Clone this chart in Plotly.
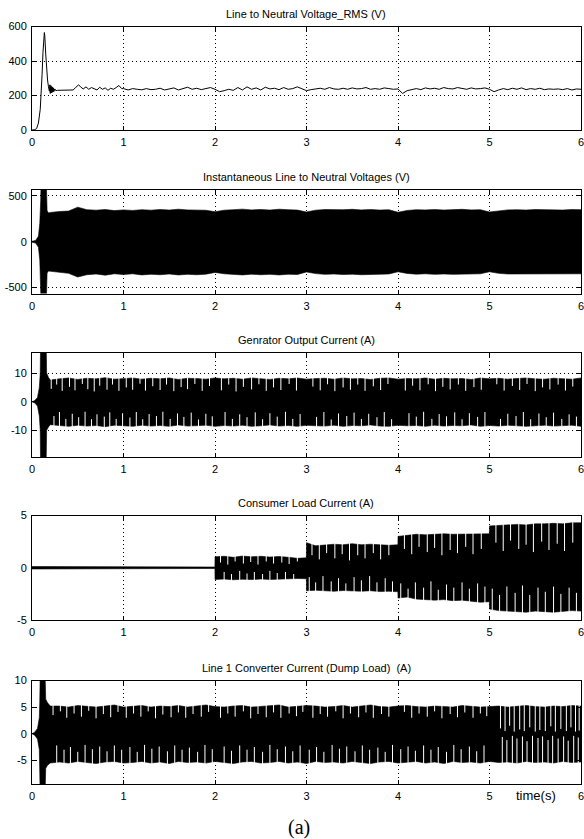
import plotly.graph_objects as go

# ---------------- data ----------------
x_ticks = [0, 1, 2, 3, 4, 5, 6]
titles = ["Line to Neutral Voltage_RMS (V)",
          "Instantaneous Line to Neutral Voltages (V)",
          "Genrator Output Current (A)",
          "Consumer Load Current (A)",
          "Line 1 Converter Current (Dump Load)  (A)"]

# 1) RMS voltage
t_rms = [0, 0.03, 0.05, 0.07, 0.09, 0.10, 0.11, 0.12, 0.13, 0.135, 0.14, 0.15, 0.16, 0.17, 0.18, 0.19,
         0.195, 0.20, 0.205, 0.21, 0.215, 0.22, 0.225, 0.23, 0.235, 0.24, 0.25, 0.26, 0.28, 0.30, 0.35,
         0.40, 0.45, 0.48, 0.51, 0.53, 0.56, 0.59, 0.62, 0.65, 0.68, 0.71, 0.74, 0.77, 0.80, 0.83, 0.86,
         0.89, 0.92, 0.95, 0.98,
         1.00, 1.05, 1.10, 1.15, 1.20, 1.25, 1.30, 1.35, 1.40, 1.45, 1.50, 1.55, 1.60, 1.65, 1.70, 1.75,
         1.80, 1.85, 1.90, 1.95, 2.00, 2.05, 2.10, 2.15, 2.20, 2.25, 2.30, 2.35, 2.40, 2.45, 2.50, 2.55,
         2.60, 2.65, 2.70, 2.75, 2.80, 2.85, 2.90, 2.95, 3.00, 3.05, 3.10, 3.15, 3.20, 3.25, 3.30, 3.35,
         3.40, 3.45, 3.50, 3.55, 3.60, 3.65, 3.70, 3.75, 3.80, 3.85, 3.90, 3.95, 4.00, 4.05, 4.10, 4.15,
         4.20, 4.25, 4.30, 4.35, 4.40, 4.45, 4.50, 4.55, 4.60, 4.65, 4.70, 4.75, 4.80, 4.85, 4.90, 4.95,
         5.00, 5.05, 5.10, 5.15, 5.20, 5.25, 5.30, 5.35, 5.40, 5.45, 5.50, 5.55, 5.60, 5.65, 5.70, 5.75,
         5.80, 5.85, 5.90, 5.95, 6.00]
v_rms = [0, 2, 8, 40, 120, 200, 320, 450, 520, 565, 545, 440, 350, 290, 250, 225,
         262, 212, 258, 215, 252, 218, 248, 220, 244, 224, 238, 228, 230, 230, 230,
         231, 232, 248, 262, 250, 238, 250, 236, 246, 240, 232, 248, 236, 244, 230, 242,
         236, 246, 258, 240,
         240, 232, 240, 236, 233, 240, 234, 236, 242, 232, 238, 244, 232, 240, 248, 236,
         242, 234, 240, 246, 236, 222, 228, 236, 230, 246, 232, 250, 236, 244, 232, 248,
         238, 242, 234, 246, 236, 240, 250, 238, 228, 234, 238, 242, 236, 246, 238, 236,
         242, 236, 244, 238, 240, 246, 236, 240, 236, 244, 240, 236, 238, 212, 228, 236,
         240, 234, 244, 238, 242, 236, 246, 240, 238, 246, 240, 236, 244, 238, 240, 244,
         236, 222, 232, 240, 234, 242, 236, 244, 234, 240, 236, 242, 234, 238, 236, 238,
         234, 240, 232, 238, 236]

# 2) Instantaneous voltage envelope
t_v = [0, 0.04, 0.07, 0.085, 0.095, 0.10, 0.155, 0.165, 0.18, 0.2,
       0.3, 0.4, 0.5, 0.6, 0.7, 0.8, 0.9, 1.0, 1.1, 1.2, 1.3, 1.4, 1.5, 1.6, 1.7, 1.8, 1.9,
       2.0, 2.1, 2.2, 2.3, 2.4, 2.5, 2.6, 2.7, 2.8, 2.9, 3.0, 3.1, 3.2, 3.3, 3.4, 3.5, 3.6, 3.7,
       3.8, 3.9, 4.0, 4.1, 4.2, 4.3, 4.4, 4.5, 4.6, 4.7, 4.8, 4.9, 5.0, 5.1, 5.2, 5.3, 5.4, 5.5,
       5.6, 5.7, 5.8, 5.9, 6.0]
v_up = [5, 15, 60, 200, 450, 700, 700, 340, 315, 320,
        330, 335, 378, 350, 345, 352, 340, 348, 342, 350, 345, 352, 346, 355, 348, 350, 344,
        328, 345, 350, 356, 348, 352, 346, 355, 350, 346, 325, 345, 352, 348, 350, 354, 348, 352,
        346, 350, 322, 342, 350, 348, 352, 346, 350, 354, 348, 350, 325, 340, 348, 350, 346, 352,
        348, 350, 346, 352, 350]
v_lo = [-5, -15, -60, -200, -450, -700, -700, -340, -320, -325,
        -335, -345, -385, -360, -352, -365, -350, -358, -350, -362, -355, -360, -352, -362, -356, -360, -354,
        -335, -350, -358, -362, -354, -360, -356, -362, -355, -358, -330, -348, -356, -352, -358, -354, -360, -352,
        -356, -352, -328, -346, -354, -350, -356, -352, -356, -350, -354, -350, -328, -345, -352, -348, -354, -350,
        -354, -348, -352, -350, -350]

# 3) Generator current envelope
t_g = [0, 0.03, 0.06, 0.08, 0.09, 0.095, 0.153, 0.16, 0.18, 0.2,
       0.3, 0.4, 0.5, 0.6, 0.7, 0.8, 0.9, 1.0, 1.1, 1.2, 1.3, 1.4, 1.5, 1.6, 1.7, 1.8, 1.9,
       2.0, 2.1, 2.2, 2.3, 2.4, 2.5, 2.6, 2.7, 2.8, 2.9, 3.0, 3.1, 3.2, 3.3, 3.4, 3.5, 3.6, 3.7,
       3.8, 3.9, 4.0, 4.1, 4.2, 4.3, 4.4, 4.5, 4.6, 4.7, 4.8, 4.9, 5.0, 5.1, 5.2, 5.3, 5.4, 5.5,
       5.6, 5.7, 5.8, 5.9, 6.0]
g_up = [0, 0.4, 1.5, 5, 10, 25, 25, 10, 8.5, 7.6,
        8.0, 8.3, 7.8, 8.2, 8.0, 8.4, 7.9, 8.1, 8.3, 7.9, 8.2, 8.0, 8.3, 7.8, 8.2, 8.1, 7.9,
        8.3, 8.0, 8.2, 7.9, 8.3, 8.1, 7.8, 8.2, 8.0, 8.3, 7.9, 8.1, 8.2, 7.9, 8.3, 8.0, 8.1, 7.8,
        8.2, 8.3, 7.9, 8.1, 8.0, 8.3, 7.9, 8.2, 8.0, 8.1, 7.8, 8.3, 8.0, 8.2, 7.9, 8.1, 8.3, 8.0,
        7.9, 8.2, 8.1, 7.9, 8.3]
g_lo = [0, -0.4, -1.5, -5, -10, -25, -25, -10, -8.8, -8.0,
        -8.3, -8.6, -8.2, -8.5, -8.3, -8.7, -8.2, -8.4, -8.6, -8.2, -8.5, -8.3, -8.6, -8.1, -8.5, -8.4, -8.2,
        -8.6, -8.3, -8.5, -8.2, -8.6, -8.4, -8.1, -8.5, -8.3, -8.6, -8.2, -8.4, -8.5, -8.2, -8.6, -8.3, -8.4, -8.1,
        -8.5, -8.6, -8.2, -8.4, -8.3, -8.6, -8.2, -8.5, -8.3, -8.4, -8.1, -8.6, -8.3, -8.5, -8.2, -8.4, -8.6, -8.3,
        -8.2, -8.5, -8.4, -8.2, -8.6]
g_gap_outer = 9.0
g_gaps_top = [(0.21, 4.5), (0.27, 6.0), (0.33, 3.8), (0.41, 5.2), (0.47, 4.0), (0.55, 6.2), (0.61, 4.4),
              (0.68, 3.6), (0.74, 5.6), (0.82, 4.2), (0.88, 6.0), (0.95, 3.8), (1.03, 5.0), (1.10, 4.2),
              (1.18, 6.3), (1.24, 3.9), (1.32, 5.4), (1.40, 4.1), (1.47, 6.0), (1.55, 3.7), (1.63, 5.1),
              (1.70, 4.4), (1.78, 6.2), (1.86, 3.8), (1.94, 5.5), (2.07, 4.0), (2.15, 6.0), (2.23, 3.6),
              (2.31, 5.2), (2.40, 4.3), (2.48, 6.1), (2.56, 3.8), (2.64, 5.0), (2.72, 4.1), (2.81, 6.2),
              (2.89, 3.9), (3.07, 5.3), (3.15, 4.0), (3.23, 6.1), (3.31, 3.7), (3.40, 5.0), (3.48, 4.2),
              (3.56, 6.0), (3.64, 3.8), (3.73, 5.4), (3.81, 4.1), (3.89, 6.2), (4.08, 3.9), (4.16, 5.6),
              (4.24, 4.0), (4.33, 6.1), (4.41, 3.7), (4.49, 5.2), (4.57, 4.3), (4.66, 6.0), (4.74, 3.8),
              (4.83, 5.1), (4.91, 4.2), (5.08, 6.1), (5.16, 3.9), (5.25, 5.5), (5.33, 4.1), (5.41, 6.2),
              (5.50, 3.7), (5.58, 5.0), (5.66, 4.3), (5.75, 6.0), (5.83, 3.9), (5.91, 5.3)]
g_gaps_bot = [(0.24, -5.0), (0.30, -3.6), (0.37, -6.0), (0.44, -4.2), (0.51, -5.4), (0.58, -3.5), (0.65, -6.1),
              (0.71, -4.4), (0.79, -5.2), (0.85, -3.7), (0.92, -6.0), (0.99, -4.0), (1.07, -5.5), (1.14, -3.6),
              (1.21, -6.1), (1.28, -4.3), (1.36, -5.0), (1.43, -3.5), (1.51, -6.0), (1.59, -4.1), (1.66, -5.3),
              (1.74, -3.8), (1.82, -6.2), (1.90, -4.2), (1.97, -5.1), (2.11, -3.6), (2.19, -6.0), (2.27, -4.4),
              (2.35, -5.4), (2.44, -3.7), (2.52, -6.1), (2.60, -4.0), (2.68, -5.2), (2.77, -3.5), (2.85, -6.0),
              (2.93, -4.3), (3.11, -5.3), (3.19, -3.6), (3.27, -6.2), (3.35, -4.1), (3.44, -5.0), (3.52, -3.8),
              (3.60, -6.0), (3.68, -4.2), (3.77, -5.4), (3.85, -3.6), (3.93, -6.1), (4.12, -4.0), (4.20, -5.2),
              (4.28, -3.5), (4.37, -6.0), (4.45, -4.3), (4.53, -5.1), (4.62, -3.7), (4.70, -6.1), (4.78, -4.0),
              (4.87, -5.3), (4.95, -3.6), (5.12, -6.0), (5.20, -4.2), (5.29, -5.0), (5.37, -3.6), (5.45, -6.1),
              (5.54, -4.1), (5.62, -5.4), (5.70, -3.8), (5.79, -6.0), (5.87, -4.4), (5.95, -5.2)]

# 4) Consumer load current envelope
t_l = [0, 0.15, 0.16, 0.5, 1.0, 1.5, 1.999,
       2.0, 2.1, 2.2, 2.3, 2.4, 2.5, 2.6, 2.7, 2.8, 2.9, 2.999,
       3.0, 3.1, 3.2, 3.3, 3.4, 3.5, 3.6, 3.7, 3.8, 3.9, 3.999,
       4.0, 4.1, 4.2, 4.3, 4.4, 4.5, 4.6, 4.7, 4.8, 4.9, 4.999,
       5.0, 5.1, 5.2, 5.3, 5.4, 5.5, 5.6, 5.7, 5.8, 5.9, 6.0]
l_up = [0.12, 0.12, 0.06, 0.07, 0.08, 0.07, 0.07,
        1.05, 1.10, 1.00, 1.12, 1.05, 1.10, 1.02, 1.08, 1.00, 0.90, 0.95,
        2.40, 2.10, 2.20, 2.25, 2.20, 2.30, 2.20, 2.25, 2.20, 2.15, 2.20,
        3.00, 3.10, 3.20, 3.15, 3.20, 3.25, 3.20, 3.22, 3.25, 3.20, 3.25,
        4.00, 4.05, 4.10, 4.15, 4.10, 4.20, 4.20, 4.25, 4.20, 4.30, 4.30]
l_lo = [-0.12, -0.12, -0.06, -0.07, -0.06, -0.07, -0.07,
        -1.12, -1.08, -1.15, -1.10, -1.13, -1.08, -1.12, -1.10, -1.06, -1.03, -1.05,
        -2.20, -2.15, -2.20, -2.25, -2.18, -2.20, -2.25, -2.20, -2.28, -2.25, -2.30,
        -2.90, -2.80, -3.00, -3.05, -3.10, -3.05, -3.15, -3.10, -3.20, -3.30, -3.25,
        -3.95, -4.10, -4.15, -4.20, -4.25, -4.15, -4.20, -4.25, -4.20, -4.10, -4.15]
l_gap_outer = 4.6
l_gaps_top = [(2.06, 0.5), (2.14, 0.3), (2.22, 0.6), (2.31, 0.4), (2.39, 0.55), (2.47, 0.3), (2.56, 0.6),
              (2.64, 0.4), (2.73, 0.5), (2.81, 0.35), (2.90, 0.6), (3.06, 1.2), (3.14, 0.8), (3.22, 1.4),
              (3.31, 0.9), (3.39, 1.3), (3.47, 0.7), (3.56, 1.2), (3.64, 0.9), (3.73, 1.4), (3.81, 0.8),
              (3.90, 1.2), (4.07, 1.8), (4.15, 1.3), (4.23, 2.0), (4.32, 1.5), (4.40, 1.9), (4.48, 1.2),
              (4.57, 1.7), (4.65, 1.4), (4.74, 2.0), (4.82, 1.3), (4.91, 1.8), (5.07, 2.4), (5.15, 1.6),
              (5.23, 2.6), (5.32, 1.8), (5.40, 2.2), (5.48, 1.5), (5.57, 2.5), (5.65, 1.7), (5.74, 2.3),
              (5.82, 1.6), (5.91, 2.4)]
l_gaps_bot = [(2.10, -0.4), (2.18, -0.6), (2.27, -0.3), (2.35, -0.55), (2.43, -0.4), (2.52, -0.6), (2.60, -0.3),
              (2.68, -0.5), (2.77, -0.4), (2.86, -0.6), (3.03, -0.9), (3.10, -1.4), (3.18, -0.8), (3.27, -1.3),
              (3.35, -1.0), (3.43, -1.5), (3.52, -0.9), (3.60, -1.2), (3.69, -0.8), (3.77, -1.4), (3.86, -1.0),
              (3.94, -1.3), (4.03, -1.5), (4.11, -2.0), (4.19, -1.4), (4.28, -1.9), (4.36, -1.3), (4.44, -2.1),
              (4.53, -1.6), (4.61, -1.9), (4.70, -1.4), (4.78, -2.0), (4.87, -1.5), (4.95, -1.8), (5.03, -2.0),
              (5.11, -2.6), (5.19, -1.8), (5.28, -2.4), (5.36, -1.7), (5.44, -2.6), (5.53, -1.9), (5.61, -2.3),
              (5.70, -1.8), (5.78, -2.5), (5.87, -1.9), (5.95, -2.4)]

# 5) Converter (dump load) current envelope
t_c = [0, 0.03, 0.06, 0.08, 0.085, 0.09, 0.142, 0.15, 0.17, 0.2,
       0.3, 0.4, 0.5, 0.6, 0.7, 0.8, 0.9, 1.0, 1.1, 1.2, 1.3, 1.4, 1.5, 1.6, 1.7, 1.8, 1.9,
       2.0, 2.1, 2.2, 2.3, 2.4, 2.5, 2.6, 2.7, 2.8, 2.9, 3.0, 3.1, 3.2, 3.3, 3.4, 3.5, 3.6, 3.7,
       3.8, 3.9, 4.0, 4.1, 4.2, 4.3, 4.4, 4.5, 4.6, 4.7, 4.8, 4.9, 5.0, 5.1, 5.2, 5.3, 5.4, 5.5,
       5.6, 5.7, 5.8, 5.9, 6.0]
c_up = [0, 0.3, 1.0, 3.0, 6.0, 12, 12, 6.5, 5.8, 5.2,
        5.2, 5.0, 5.3, 5.1, 5.0, 5.2, 5.4, 5.0, 5.1, 5.3, 5.0, 5.2, 5.1, 5.3, 5.0, 5.2, 5.4,
        5.1, 5.0, 5.2, 5.3, 5.0, 5.1, 5.2, 5.4, 5.0, 5.1, 5.3, 5.2, 5.0, 5.1, 5.3, 5.0, 5.2,
        5.4, 5.1, 5.0, 5.2, 5.3, 5.1, 5.0, 5.2, 5.1, 5.0, 5.3, 5.2, 5.0, 5.1, 5.2, 5.0, 5.2,
        5.3, 5.1, 5.0, 5.2, 5.1, 5.3, 5.2]
c_lo = [0, -0.3, -1.0, -3.0, -6.0, -12, -12, -6.5, -5.9, -5.5,
        -5.3, -5.5, -5.2, -5.4, -5.6, -5.3, -5.2, -5.5, -5.4, -5.2, -5.5, -5.3, -5.6, -5.2, -5.4, -5.3, -5.5,
        -5.2, -5.4, -5.6, -5.3, -5.2, -5.5, -5.4, -5.2, -5.5, -5.3, -5.6, -5.2, -5.4, -5.3, -5.5, -5.2, -5.4,
        -5.6, -5.3, -5.2, -5.5, -5.4, -5.2, -5.5, -5.3, -5.6, -5.2, -5.4, -5.3, -5.5, -5.2, -5.4, -5.3, -5.5,
        -5.2, -5.4, -5.3, -5.5, -5.2, -5.4, -5.3]
c_gap_outer = 6.2
c_gaps_top = [(0.23, 3.5), (0.31, 4.2), (0.38, 3.0), (0.46, 3.8), (0.54, 3.2), (0.62, 4.3), (0.70, 2.9),
              (0.78, 3.7), (0.86, 3.1), (0.94, 4.1), (1.03, 3.0), (1.11, 3.8), (1.19, 3.2), (1.27, 4.2),
              (1.35, 2.9), (1.43, 3.6), (1.52, 3.1), (1.60, 4.0), (1.68, 3.0), (1.76, 3.7), (1.85, 3.2),
              (1.93, 4.1), (2.06, 3.0), (2.14, 3.8), (2.22, 3.2), (2.31, 4.2), (2.39, 2.9), (2.47, 3.7),
              (2.56, 3.1), (2.64, 4.0), (2.72, 3.0), (2.81, 3.8), (2.89, 3.3), (2.96, 4.1), (3.07, 3.0),
              (3.15, 3.7), (3.23, 3.2), (3.32, 4.2), (3.40, 2.9), (3.48, 3.8), (3.57, 3.1), (3.65, 4.0),
              (3.73, 3.0), (3.82, 3.7), (3.90, 3.2), (4.07, 4.1), (4.15, 3.0), (4.23, 3.8), (4.32, 3.2),
              (4.40, 4.2), (4.48, 2.9), (4.57, 3.7), (4.65, 3.1), (4.73, 4.0), (4.82, 3.0), (4.90, 3.8),
              (4.97, 3.3), (5.12, 1.0), (5.17, 0.5), (5.22, 1.5), (5.27, 0.4), (5.33, 0.8), (5.38, 0.5),
              (5.44, 1.2), (5.50, 0.4), (5.55, 0.7), (5.61, 0.5), (5.67, 1.4), (5.72, 0.4), (5.78, 0.9),
              (5.84, 0.5), (5.89, 1.2), (5.94, 0.4), (5.98, 0.6)]
c_gaps_bot = [(0.27, -2.2), (0.35, -3.0), (0.42, -2.5), (0.50, -3.4), (0.58, -2.1), (0.66, -2.9), (0.74, -2.4),
              (0.82, -3.3), (0.90, -2.2), (0.98, -3.0), (1.07, -2.5), (1.15, -3.4), (1.23, -2.1), (1.31, -2.8),
              (1.39, -2.4), (1.48, -3.3), (1.56, -2.2), (1.64, -3.0), (1.72, -2.6), (1.81, -3.4), (1.89, -2.1),
              (1.97, -2.9), (2.10, -2.4), (2.18, -3.2), (2.27, -2.2), (2.35, -3.0), (2.43, -2.5), (2.52, -3.4),
              (2.60, -2.1), (2.68, -2.9), (2.77, -2.4), (2.85, -3.3), (2.93, -2.2), (3.03, -3.0), (3.11, -2.5),
              (3.19, -3.4), (3.28, -2.1), (3.36, -2.8), (3.44, -2.4), (3.53, -3.3), (3.61, -2.2), (3.69, -3.0),
              (3.78, -2.6), (3.86, -3.4), (3.94, -2.1), (4.03, -2.9), (4.11, -2.4), (4.19, -3.2), (4.28, -2.2),
              (4.36, -3.0), (4.44, -2.5), (4.53, -3.4), (4.61, -2.1), (4.69, -2.9), (4.78, -2.4), (4.86, -3.3),
              (4.94, -2.2), (5.14, -0.6), (5.19, -1.2), (5.25, -0.4), (5.30, -0.9), (5.36, -0.5), (5.41, -1.4),
              (5.47, -0.4), (5.53, -0.8), (5.58, -0.5), (5.64, -1.2), (5.69, -0.4), (5.75, -0.9), (5.81, -0.5),
              (5.86, -1.3), (5.92, -0.4), (5.97, -0.7)]

# y axis settings per panel
y_ranges = [[0, 600], [-565, 565], [-19.3, 17.2], [-5, 5], [-9.44, 10]]
y_ticks = [[0, 200, 400, 600], [-500, 0, 500], [-10, 0, 10], [-5, 0, 5], [-5, 0, 5, 10]]

# ---------------- layout geometry (window pixels) ----------------
W, H = 584, 839
PX_L, PX_R = 32, 581
panel_px = [(26.5, 130), (190, 293.5), (352.5, 457), (515.5, 620), (680.5, 784)]
title_px_y = [14, 176.7, 340, 503.3, 668.3]


def fx(px):
    return px / W


def fy(py):
    return 1 - py / H


FONT = "Liberation Sans, Arial, sans-serif"


def band(t, up, lo, ax):
    return go.Scatter(x=list(t) + list(t)[::-1], y=list(up) + list(lo)[::-1],
                      fill="toself", fillcolor="black", mode="lines",
                      line=dict(color="black", width=0.6), hoverinfo="skip",
                      showlegend=False, xaxis=ax[0], yaxis=ax[1])


def gap_lines(pairs, outer, ax):
    xs, ys = [], []
    for t, inner in pairs:
        xs += [t, t, None]
        ys += [outer, inner, None]
    return go.Scatter(x=xs, y=ys, mode="lines", line=dict(color="white", width=1),
                      hoverinfo="skip", showlegend=False, xaxis=ax[0], yaxis=ax[1])


fig = go.Figure()
axes = [("x", "y"), ("x2", "y2"), ("x3", "y3"), ("x4", "y4"), ("x5", "y5")]

fig.add_trace(go.Scatter(x=t_rms, y=v_rms, mode="lines", line=dict(color="black", width=1),
                         showlegend=False, xaxis="x", yaxis="y"))
fig.add_trace(band(t_v, v_up, v_lo, axes[1]))
fig.add_trace(band(t_g, g_up, g_lo, axes[2]))
fig.add_trace(gap_lines(g_gaps_top, g_gap_outer, axes[2]))
fig.add_trace(gap_lines(g_gaps_bot, -g_gap_outer, axes[2]))
fig.add_trace(band(t_l, l_up, l_lo, axes[3]))
fig.add_trace(gap_lines(l_gaps_top, l_gap_outer, axes[3]))
fig.add_trace(gap_lines(l_gaps_bot, -l_gap_outer, axes[3]))
fig.add_trace(band(t_c, c_up, c_lo, axes[4]))
fig.add_trace(gap_lines(c_gaps_top, c_gap_outer, axes[4]))
fig.add_trace(gap_lines(c_gaps_bot, -c_gap_outer, axes[4]))

layout = dict(width=W, height=H, margin=dict(l=0, r=0, t=0, b=0, pad=0),
              template="none",
              paper_bgcolor="white", plot_bgcolor="white",
              font=dict(family=FONT, size=11, color="black"), showlegend=False)

axis_common = dict(showline=True, linecolor="black", linewidth=1, mirror="ticks",
                   ticks="inside", ticklen=4, tickwidth=1, tickcolor="black",
                   showgrid=True, gridcolor="black", gridwidth=1, griddash="1px,3px",
                   zeroline=False, automargin=False, ticklabeloverflow="allow",
                   tickfont=dict(family=FONT, size=11, color="black"))

annotations = []
for i in range(5):
    top, bot = panel_px[i]
    sfx = "" if i == 0 else str(i + 1)
    layout["xaxis" + sfx] = dict(axis_common, domain=[fx(PX_L), fx(PX_R)], range=[0, 6],
                                 tickvals=x_ticks, ticktext=[str(v) for v in x_ticks],
                                 anchor="y" + sfx, ticklabelstandoff=2)
    layout["yaxis" + sfx] = dict(axis_common, domain=[fy(bot), fy(top)],
                                 range=y_ranges[i], tickvals=y_ticks[i],
                                 ticktext=[str(v) for v in y_ticks[i]],
                                 anchor="x" + sfx, ticklabelstandoff=2)
    annotations.append(dict(text=titles[i], x=fx(306), y=fy(title_px_y[i]),
                            xref="paper", yref="paper", showarrow=False,
                            xanchor="center", yanchor="middle",
                            font=dict(family=FONT, size=11, color="black")))

annotations.append(dict(text="time(s)", x=fx(536), y=fy(795), xref="paper", yref="paper",
                        showarrow=False, xanchor="center", yanchor="middle",
                        font=dict(family=FONT, size=13, color="black")))
annotations.append(dict(text="(a)", x=fx(298.5), y=fy(827), xref="paper", yref="paper",
                        showarrow=False, xanchor="center", yanchor="middle",
                        font=dict(family="Liberation Serif, Times New Roman, serif", size=20,
                                  color="black")))
layout["annotations"] = annotations
fig.update_layout(**layout)

# remove the default page margin so the 584x839 figure fills the window exactly
fig.write_html("out.html",
               config={"displayModeBar": False, "staticPlot": True},
               post_script="document.body.style.margin='0px';"
                           "document.documentElement.style.overflow='hidden';"
                           "document.body.style.overflow='hidden';")
